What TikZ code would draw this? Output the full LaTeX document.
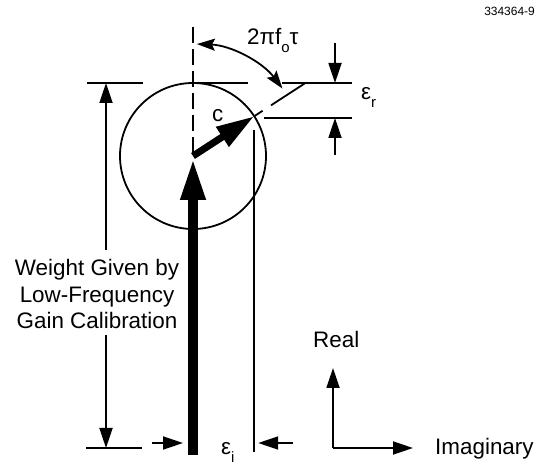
\documentclass[tikz,border=0pt]{standalone}
\usepackage{fontspec}
\setmainfont{Liberation Sans}
\usetikzlibrary{calc, arrows.meta}

\newcommand{\lowsub}[1]{\raisebox{-0.35em}{\fontsize{15}{15}\selectfont #1}}

\tikzset{
  thinline/.style={line width=1.8bp},
  tipped/.style={thinline, -{Triangle[length=20bp,width=13bp]}},
  bigtext/.style={font=\fontsize{22.5}{27}\selectfont, inner sep=0pt},
}

\begin{document}
\begin{tikzpicture}[x=1bp, y=1bp]
\useasboundingbox (0,0) rectangle (535,467);

% --- Key points ---
\coordinate (O) at (193,311);
\coordinate (C) at ($(O)+(33:73bp)$);
\coordinate (Cend) at ($(O)+(33:133bp)$);
\coordinate (Vtop) at (193,440);
\coordinate (base) at (193,12);

% --- Figure number ---
\node[font=\fontsize{12}{14}\selectfont, anchor=base east, inner sep=0pt] (fignum) at (535,451) {334364-9};

% --- Circle and real-axis dashed line ---
\draw[thinline] (O) circle[radius=73bp];
\draw[thinline, dash pattern=on 16bp off 6bp] (Vtop) -- (O);

% --- Reference lines ---
\draw[thinline] (87,384) -- (143,384);
\draw[thinline] (193,384) -- (248,384);
\draw[thinline] (282,384) -- (352,384);
\draw[thinline] (264,349) -- (352,349);

% --- Error in real part ---
\draw[tipped] (335,424) -- (335,384);
\draw[tipped] (335,312) -- (335,349);
\node[bigtext, anchor=base west] (epsr) at (361,367) {ε\lowsub{r}};

% --- Phase angle ---
\draw[thinline, dash pattern=on 10bp off 10bp on 40bp off 10bp] (C) -- (Cend);
\draw[thinline, {Stealth[length=18bp,width=12bp,inset=3bp]}-{Stealth[length=18bp,width=12bp,inset=3bp]}]
  ($(O)+(88:112bp)$) arc[start angle=88, end angle=37, radius=112bp];
\node[bigtext, anchor=base west] (phase) at (247,422) {2πf\lowsub{o}τ};

% --- Weight vector and correction c ---
\draw[line width=9.5bp, -{Triangle[length=42bp,width=23bp]}] (base) -- ($(O)+(0,-2)$);
\draw[line width=7bp, -{Triangle[length=38bp,width=22bp]}] (O) -- (C);
\node[bigtext, anchor=base west] (clabel) at (212,345) {c};

% --- Error in imaginary part ---
\coordinate (Ibot) at ($(C|-base)+(0,3)$);
\draw[thinline] ($(C)+(0,-14)$) -- (Ibot);
\draw[tipped] (152,24) -- (183,24);
\draw[tipped] (293,24) -- ($(C|-base)+(4,12)$);
\node[bigtext, anchor=base west] (epsi) at (221,12) {ε\lowsub{i}};

% --- Weight dimension ---
\node[bigtext, align=center] (weight) at (97,173) {Weight Given by\\Low-Frequency\\Gain Calibration};
\coordinate (Wtop) at (106,384);
\coordinate (Wbot) at (106,19);
\draw[tipped] ([yshift=9bp]weight.north -| Wtop) -- (Wtop);
\draw[tipped] ([yshift=-6bp]weight.south -| Wbot) -- (Wbot);
\draw[thinline] (86,19) -- (142,19);

% --- Axes ---
\coordinate (A) at (333,19);
\draw[tipped] (A) -- (333,99);
\draw[tipped] (A) -- (413,19);
\node[bigtext, anchor=base west] (real) at (313,119) {Real};
\node[bigtext, anchor=base west] (imag) at (435,12) {Imaginary};

\end{tikzpicture}
\end{document}
